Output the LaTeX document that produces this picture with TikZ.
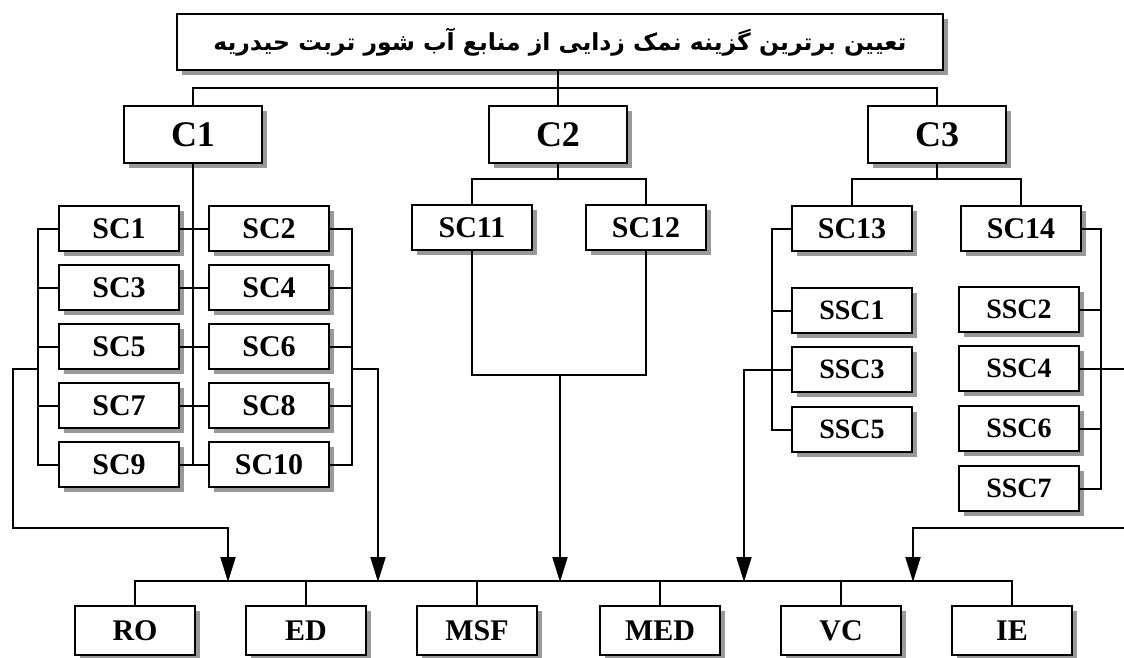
\documentclass[tikz,border=0pt]{standalone}
\usepackage{fontspec}
\setmainfont{Liberation Serif}
\newfontfamily\arabicfont[Script=Arabic]{DejaVu Sans}
\TeXXeTstate=1
\usetikzlibrary{arrows.meta,shadows}

\begin{document}
\begin{tikzpicture}[x=1pt,y=-1pt,
	box/.style={draw,fill=white,line width=2.2pt,inner sep=0pt,
		drop shadow={shadow xshift=5pt,shadow yshift=-5pt,fill=black!40,opacity=1}},
	topbox/.style={box,minimum width=766pt,minimum height=56pt,font=\arabicfont\bfseries\fontsize{23.5}{27}\selectfont},
	cbox/.style={box,minimum width=138pt,minimum height=57pt,font=\bfseries\fontsize{36}{38}\selectfont},
	scbox/.style={box,minimum width=120pt,minimum height=45pt,font=\bfseries\fontsize{30}{32}\selectfont},
	sscbox/.style={box,minimum width=120pt,minimum height=45pt,font=\bfseries\fontsize{28}{30}\selectfont},
	altbox/.style={box,minimum width=120pt,minimum height=49pt,font=\bfseries\fontsize{30}{32}\selectfont},
	line/.style={line width=2pt},
	arr/.style={line,-{Triangle[length=25pt,width=15pt]}}]
			\useasboundingbox (0,0) rectangle (1124,658);
			%goal and criteria
			\node[topbox] (goal) at (560,42) {\beginR تعیین برترین گزینه نمک زدایی از منابع آب شور تربت حیدریه\endR};
			\node[cbox] (C1) at (193,134.5) {C1};
			\node[cbox] (C2) at (558,134.5) {C2};
			\node[cbox] (C3) at (937,134.5) {C3};
			%sub criteria
			\node[scbox] (SC1) at (119,228.5) {SC1};
			\node[scbox] (SC2) at (269,228.5) {SC2};
			\node[scbox] (SC3) at (119,287.5) {SC3};
			\node[scbox] (SC4) at (269,287.5) {SC4};
			\node[scbox] (SC5) at (119,346.5) {SC5};
			\node[scbox] (SC6) at (269,346.5) {SC6};
			\node[scbox] (SC7) at (119,405.5) {SC7};
			\node[scbox] (SC8) at (269,405.5) {SC8};
			\node[scbox] (SC9) at (119,464.5) {SC9};
			\node[scbox] (SC10) at (269,464.5) {SC10};
			\node[scbox] (SC11) at (472,227.5) {SC11};
			\node[scbox] (SC12) at (646,227.5) {SC12};
			\node[scbox] (SC13) at (852,228.5) {SC13};
			\node[scbox] (SC14) at (1021,228.5) {SC14};
			\node[sscbox] (SSC1) at (852,310.5) {SSC1};
			\node[sscbox] (SSC3) at (852,369.5) {SSC3};
			\node[sscbox] (SSC5) at (852,429.5) {SSC5};
			\node[sscbox] (SSC2) at (1019,309.5) {SSC2};
			\node[sscbox] (SSC4) at (1019,368.5) {SSC4};
			\node[sscbox] (SSC6) at (1019,428.5) {SSC6};
			\node[sscbox] (SSC7) at (1019,488.5) {SSC7};
			%alternatives
			\node[altbox] (RO) at (135,630.5) {RO};
			\node[altbox] (ED) at (306,630.5) {ED};
			\node[altbox] (MSF) at (477,630.5) {MSF};
			\node[altbox] (MED) at (660,630.5) {MED};
			\node[altbox] (VC) at (841,630.5) {VC};
			\node[altbox] (IE) at (1012,630.5) {IE};
			%free ends of the long connectors
			\coordinate (lout) at (39,369);
			\coordinate (rout) at (351,369);
			\coordinate (mout) at (560,375);
			\coordinate (sout) at (773,369.5);
			\coordinate (eout) at (1124,368.5);
			\coordinate (ein) at (1124,528);
			%goal to criteria
			\draw[line] (C2.north |- goal.south) -- (C2.north);
			\draw[line] (C1.north) -- ++(0,-17) -| (C3.north);
			%C1 branch
			\draw[line] (C1.south) -- (C1.south |- SC9.east);
			\draw[line] (SC1.east) -- (SC2.west);
			\draw[line] (SC3.east) -- (SC4.west);
			\draw[line] (SC5.east) -- (SC6.west);
			\draw[line] (SC7.east) -- (SC8.west);
			\draw[line] (SC9.east) -- (SC10.west);
			\draw[line] (SC1.west) -- ++(-20,0) |- (SC9.west);
			\draw[line] (SC2.east) -- ++(22,0) |- (SC10.east);
			\draw[line] (SC3.west) -- ++(-20,0);
			\draw[line] (SC5.west) -- ++(-20,0);
			\draw[line] (SC7.west) -- ++(-20,0);
			\draw[line] (SC4.east) -- ++(22,0);
			\draw[line] (SC6.east) -- ++(22,0);
			\draw[line] (SC8.east) -- ++(22,0);
			\draw[arr] (lout) -- (13,369) |- (228,528) -- (228,582);
			\draw[arr] (rout) -- (378,369) -- (378,582);
			%C2 branch
			\draw[line] (C2.south) -- ++(0,15) -| (SC11.north);
			\draw[line] (C2.south) -- ++(0,15) -| (SC12.north);
			\draw[line] (SC11.south) |- (mout) -| (SC12.south);
			\draw[arr] (mout) -- (560,582);
			%C3 branch
			\draw[line] (C3.south) -- ++(0,15) -| (SC13.north);
			\draw[line] (C3.south) -- ++(0,15) -| (SC14.north);
			\draw[line] (SC13.west) -- ++(-19,0) |- (SSC5.west);
			\draw[line] (SSC1.west) -- ++(-19,0);
			\draw[line] (SSC3.west) -- (sout);
			\draw[line] (SC14.east) -- ++(19,0) |- (SSC7.east);
			\draw[line] (SSC2.east) -- ++(21,0);
			\draw[line] (SSC6.east) -- ++(21,0);
			\draw[line] (SSC4.east) -- (eout);
			\draw[arr] (sout) -- (744,369.5) -- (744,582);
			\draw[arr] (ein) -| (913,582);
			%alternatives bar
			\draw[line] (RO.north) -- ++(0,-24) -| (IE.north);
			\draw[line] (ED.north) -- ++(0,-24);
			\draw[line] (MSF.north) -- ++(0,-24);
			\draw[line] (MED.north) -- ++(0,-24);
			\draw[line] (VC.north) -- ++(0,-24);
		\end{tikzpicture}
\end{document}
